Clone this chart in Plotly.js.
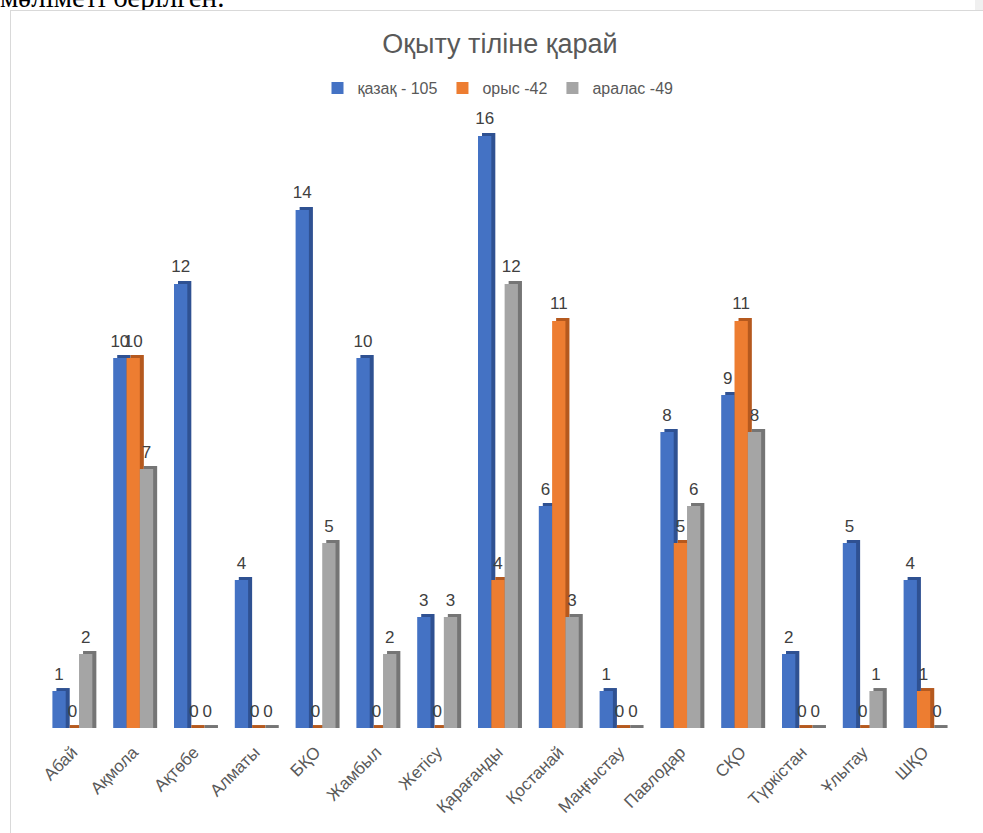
<!DOCTYPE html>
<html><head><meta charset="utf-8">
<script src="https://cdn.plot.ly/plotly-3.0.1.min.js"></script>
<style>
html,body{margin:0;padding:0;background:#fff;width:983px;height:833px;overflow:hidden;}
#doc{position:absolute;left:0;top:-17px;font-family:"Liberation Serif","Times New Roman",serif;font-size:29px;line-height:29px;color:#000;white-space:nowrap;}
#frame{position:absolute;left:10px;top:10px;width:973px;height:823px;border-left:1px solid #d9d9d9;border-top:1px solid #d9d9d9;box-sizing:border-box;}
#chart{position:absolute;left:11px;top:11px;width:972px;height:822px;}
#scroll{position:absolute;left:975px;top:0;width:8px;height:10px;background:#f0f0f0;}
</style></head>
<body>
<div id="doc">мәліметі берілген.</div>
<div id="frame"></div>
<div id="scroll"></div>
<div id="chart"></div>
<script>
const categories = ['Абай','Ақмола','Ақтөбе','Алматы','БҚО','Жамбыл','Жетісу','Қарағанды','Қостанай','Маңғыстау','Павлодар','СҚО','Түркістан','Ұлытау','ШҚО'];
const kazakh  = [1,10,12,4,14,10,3,16,6,1,8,9,2,5,4];
const russian = [0,10,0,0,0,0,0,4,11,0,5,11,0,0,1];
const mixed   = [2,7,0,0,5,2,3,12,3,0,6,8,0,1,0];
const seriesNames = ['қазақ - 105','орыс -42','аралас -49'];
const seriesValues = [kazakh, russian, mixed];
const frontColors = ['#4472C4','#ED7D31','#A5A5A5'];
const sideColors  = ['#2F5192','#B5591E','#757575'];

const barW = 0.219;
const offsets = [-0.329, -0.110, 0.109];
const depthX = 0.066;
const depthY = 0.08;
const labelLift = 0.12;

const FONT = 'Liberation Sans, Arial, sans-serif';
const traces = [];
// depth (side/top faces) first
seriesValues.forEach((vals, i) => {
  traces.push({
    type:'bar', x:categories, y:vals.map(v => v + depthY),
    width:barW, offset:offsets[i] + depthX,
    marker:{color:sideColors[i], line:{width:0}},
    showlegend:false, hoverinfo:'skip'
  });
});
// front faces
seriesValues.forEach((vals, i) => {
  traces.push({
    type:'bar', name:seriesNames[i], x:categories, y:vals,
    width:barW, offset:offsets[i],
    marker:{color:frontColors[i], line:{width:0}}
  });
});
// data labels (transparent carriers above the 3D top)
seriesValues.forEach((vals, i) => {
  traces.push({
    type:'bar', x:categories, y:vals.map(v => v + labelLift),
    width:barW, offset:offsets[i],
    marker:{color:'rgba(0,0,0,0)', line:{width:0}},
    text:vals.map(String), textposition:'outside', textangle:0,
    constraintext:'none', cliponaxis:false,
    textfont:{family:FONT, size:17, color:'#404040'},
    showlegend:false, hoverinfo:'skip'
  });
});

const layout = {
  width:972, height:822,
  margin:{l:31, r:29, t:99, b:105},
  paper_bgcolor:'#ffffff', plot_bgcolor:'#ffffff',
  barmode:'overlay',
  font:{family:FONT, color:'#595959'},
  title:{text:'Оқыту тіліне қарай', x:0.503, xref:'container', y:0.96, yref:'container', yanchor:'middle',
         font:{size:27, color:'#595959', family:FONT}},
  legend:{orientation:'h', x:0.5, xanchor:'center', y:1.0356, yanchor:'middle',
          font:{size:16, color:'#595959'}, itemwidth:30, traceorder:'normal'},
  xaxis:{type:'category', range:[-0.5, 14.5], tickangle:-45, showline:false, showgrid:false, zeroline:false,
         ticks:'', ticklabelstandoff:10, tickfont:{size:17, color:'#595959'}, fixedrange:true},
  yaxis:{range:[0, 16.7], visible:false, showgrid:false, zeroline:false, fixedrange:true},
  showlegend:true
};

Plotly.newPlot('chart', traces, layout, {displayModeBar:false, staticPlot:true});
</script>
</body></html>
